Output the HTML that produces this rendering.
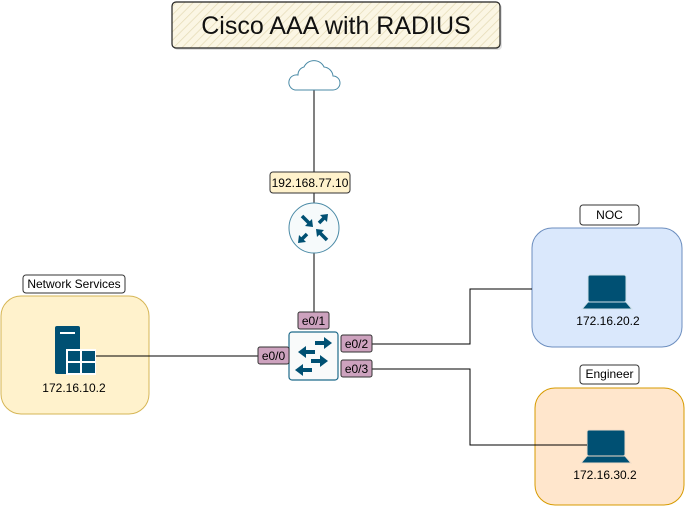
<!DOCTYPE html>
<html><head><style>
body{margin:0;width:686px;height:508px;background:#fff;overflow:hidden;font-family:"Liberation Sans",sans-serif;}
</style></head><body>
<svg width="686" height="508" xmlns="http://www.w3.org/2000/svg" font-family="Liberation Sans, sans-serif">
<defs>
<pattern id="h" width="6" height="6" patternUnits="userSpaceOnUse" patternTransform="rotate(45)">
<rect width="6" height="6" fill="#fbf6e4"/><line x1="0" y1="0" x2="0" y2="6" stroke="#e6dcb8" stroke-width="1.5"/></pattern>
</defs>
<rect x="174" y="4" width="328" height="46" rx="4" fill="#ccc" opacity="0.6"/>
<rect x="172" y="2" width="328" height="46" rx="4" fill="url(#h)" stroke="#222" stroke-width="1.2"/>
<text x="336" y="34" font-size="25" text-anchor="middle" fill="#111">Cisco AAA with RADIUS</text>
<!-- network services -->
<rect x="1" y="296" width="148" height="118" rx="20" fill="#fff2cc" stroke="#d6b656"/>
<rect x="23" y="275" width="102" height="18" rx="3" fill="#fff" stroke="#333"/>
<text x="74" y="288" font-size="12" text-anchor="middle">Network Services</text>
<rect x="55" y="326" width="25" height="48" rx="2" fill="#005073"/>
<rect x="60" y="332" width="15" height="2" fill="#fff"/>
<rect x="66" y="349" width="30" height="26" fill="#fff"/>
<rect x="68" y="351" width="12" height="10" fill="#005073"/><rect x="82" y="351" width="13" height="10" fill="#005073"/>
<rect x="68" y="363" width="12" height="10" fill="#005073"/><rect x="82" y="363" width="13" height="10" fill="#005073"/>
<text x="74" y="392" font-size="12" text-anchor="middle">172.16.10.2</text>
<!-- NOC -->
<rect x="532" y="228" width="150" height="119" rx="20" fill="#dae8fc" stroke="#6c8ebf"/>
<rect x="580" y="205" width="59" height="20" rx="3" fill="#fff" stroke="#333"/>
<text x="609.5" y="219" font-size="12" text-anchor="middle">NOC</text>
<rect x="588" y="275" width="38" height="27" rx="2" fill="#005073" stroke="#cfe0ea"/>
<path d="M582,309 l6,-7 h38 l6,7z" fill="#005073" stroke="#cfe0ea"/>
<text x="608" y="325" font-size="12" text-anchor="middle">172.16.20.2</text>
<!-- Engineer -->
<rect x="535" y="388" width="149" height="117" rx="20" fill="#ffe6cc" stroke="#d79b00"/>
<rect x="580" y="365" width="59" height="19" rx="3" fill="#fff" stroke="#333"/>
<text x="609.5" y="378" font-size="12" text-anchor="middle">Engineer</text>
<rect x="587" y="430" width="38" height="26" rx="2" fill="#005073" stroke="#f0dcc8"/>
<path d="M581,463 l6,-7 h38 l6,7z" fill="#005073" stroke="#f0dcc8"/>
<text x="605" y="479" font-size="12" text-anchor="middle">172.16.30.2</text>
<!-- lines -->
<g stroke="#000" stroke-width="1" fill="none">
<line x1="314" y1="90" x2="314" y2="172"/>
<line x1="314" y1="193" x2="314" y2="203"/>
<line x1="314" y1="253" x2="314" y2="312"/>
<line x1="96" y1="356" x2="258" y2="356"/>
<polyline points="372,344 470,344 470,289 532,289"/>
<polyline points="372,369 470,369 470,445 587,445"/>
</g>
<!-- cloud -->
<path d="M295,90 h38 a7,7 0 0 0 0,-14 a10,10 0 0 0 -9,-9 a11,11 0 0 0 -20,0 a8,8 0 0 0 -6,8 a7.5,7.5 0 0 0 -3,15z" fill="#fff" stroke="#4a8aa6" stroke-width="1"/>
<rect x="270" y="172" width="80" height="21" rx="3" fill="#fff2cc" stroke="#333"/>
<text x="310" y="187" font-size="12" text-anchor="middle">192.168.77.10</text>
<!-- router -->
<circle cx="314" cy="228" r="25" fill="#f6fafb" stroke="#4a8aa6"/>
<g stroke="#005073" stroke-width="3.5" fill="#005073">
<line x1="302" y1="216" x2="310" y2="224"/><polygon points="313,227 305,226 312,219" stroke="none"/>
<line x1="326" y1="216" x2="319" y2="223"/><polygon points="328,214 327,222 320,215" stroke="none"/>
<line x1="300" y1="241" x2="307" y2="234"/><polygon points="298,243 299,235 306,242" stroke="none"/>
<line x1="327" y1="240" x2="319" y2="232"/><polygon points="316,229 324,230 317,237" stroke="none"/>
</g>
<!-- switch -->
<rect x="289" y="332" width="49" height="48" rx="3" fill="#f9fafa" stroke="#1e6a8a" stroke-width="1.2"/>
<g fill="#005073">
<rect x="315" y="341" width="10" height="4"/><polygon points="324,337 332,343 324,349"/>
<rect x="305" y="350" width="10" height="4"/><polygon points="306,346 298,352 306,358"/>
<rect x="311" y="359" width="10" height="4"/><polygon points="320,355 328,361 320,367"/>
<rect x="302" y="368" width="10" height="4"/><polygon points="303,364 295,370 303,376"/>
</g>
<g font-size="12" text-anchor="middle">
<rect x="298" y="312" width="31" height="17" rx="2" fill="#cda2be" stroke="#333"/><text x="313.5" y="325">e0/1</text>
<rect x="258" y="347" width="31" height="17" rx="2" fill="#cda2be" stroke="#333"/><text x="273.5" y="360">e0/0</text>
<rect x="341" y="335" width="31" height="17" rx="2" fill="#cda2be" stroke="#333"/><text x="356.5" y="348">e0/2</text>
<rect x="341" y="360" width="31" height="17" rx="2" fill="#cda2be" stroke="#333"/><text x="356.5" y="373">e0/3</text>
</g>
</svg>
</body></html>
